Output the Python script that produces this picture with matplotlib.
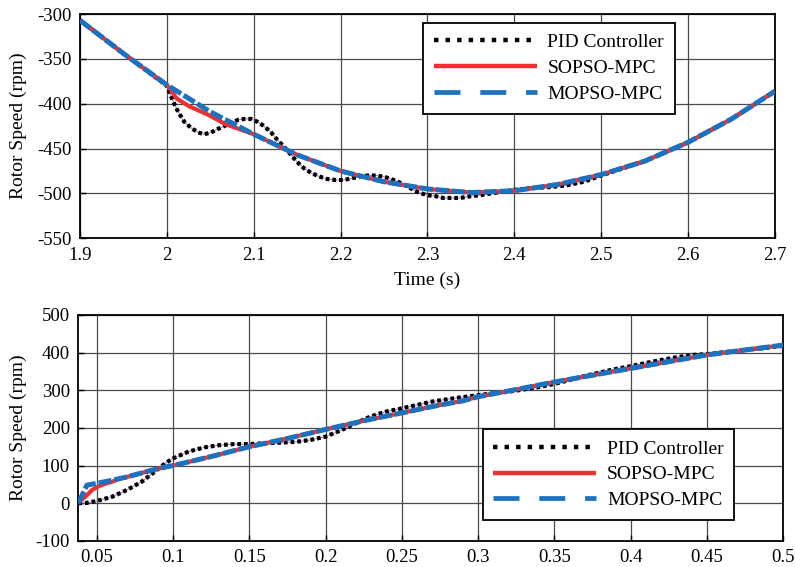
import matplotlib
matplotlib.use("Agg")
import matplotlib.pyplot as plt
from matplotlib.lines import Line2D
from matplotlib.ticker import FuncFormatter

plt.rcParams['font.family'] = ['Liberation Serif', 'DejaVu Serif']
plt.rcParams['axes.unicode_minus'] = False

labels = ['PID Controller', 'SOPSO-MPC', 'MOPSO-MPC']

# ---------------- Top panel data ----------------
t_mop_top = [1.9, 1.95, 2.0, 2.05, 2.1, 2.15, 2.2, 2.25, 2.3, 2.35, 2.4, 2.45, 2.5, 2.55, 2.6, 2.65, 2.7]
v_mop_top = [-307, -344, -379, -409, -434, -457, -475, -487, -495, -499, -497, -490, -479, -464, -443, -417, -386]

t_sop_top = [1.9, 1.95, 2.0, 2.005, 2.011, 2.026, 2.047, 2.068, 2.1, 2.15, 2.2, 2.25, 2.3, 2.35, 2.4, 2.45, 2.5, 2.55, 2.6, 2.65, 2.7]
v_sop_top = [-307, -344, -379, -385, -394, -403, -412, -423, -434, -457, -475, -487, -495, -499, -497, -490, -479, -464, -443, -417, -386]

t_pid_top = [1.9, 1.95, 2.0, 2.008, 2.013, 2.02, 2.028, 2.036, 2.043, 2.051, 2.059, 2.066, 2.074,
             2.082, 2.089, 2.097, 2.104, 2.112, 2.12, 2.127, 2.135, 2.143, 2.15, 2.158, 2.166,
             2.175, 2.185, 2.194, 2.204, 2.213, 2.223, 2.232, 2.242, 2.252, 2.261, 2.271, 2.28,
             2.29, 2.3, 2.309, 2.318, 2.328, 2.338, 2.35, 2.36, 2.38, 2.4, 2.42, 2.44, 2.46,
             2.48, 2.5, 2.55, 2.6, 2.65, 2.7]
v_pid_top = [-307, -344, -380, -399, -409, -420, -427, -432, -434, -432, -428, -425, -421,
             -418, -417, -417, -420, -425, -432, -440, -448, -457, -465, -472, -477,
             -481, -484, -485, -485, -483, -481, -480, -480, -482, -485, -489, -494,
             -499, -502, -503, -505, -505, -505, -503, -502, -499, -496, -494, -493, -491,
             -487, -480, -464, -443, -417, -386]

# ---------------- Bottom panel data ----------------
t_mop_bot = [0.038, 0.0436, 0.05, 0.06, 0.07, 0.08, 0.09, 0.1, 0.125, 0.15, 0.175, 0.2, 0.225,
             0.25, 0.275, 0.29, 0.3, 0.325, 0.35, 0.375, 0.4, 0.425, 0.45, 0.475, 0.5]
v_mop_bot = [0, 48, 53, 61, 70, 81, 92, 100, 124, 150, 172, 196, 219,
             240, 261, 272, 283, 302, 322, 340, 358, 376, 394, 407, 420]

t_sop_bot = [0.038, 0.0403, 0.0436, 0.0469, 0.0512, 0.0556, 0.06, 0.065, 0.07, 0.08, 0.09, 0.1,
             0.125, 0.15, 0.175, 0.2, 0.225, 0.25, 0.275, 0.29, 0.3, 0.325, 0.35, 0.375, 0.4,
             0.425, 0.45, 0.475, 0.5]
v_sop_bot = [0, 10, 21, 35, 45, 52, 57, 65, 70, 81, 92, 100,
             124, 150, 172, 196, 219, 240, 261, 272, 283, 302, 322, 340, 358,
             376, 394, 407, 420]

t_pid_bot = [0.038, 0.0436, 0.05, 0.06, 0.0697, 0.0795, 0.0894, 0.0949, 0.1, 0.1102, 0.1201,
             0.1299, 0.1397, 0.15, 0.1594, 0.1703, 0.1802, 0.19, 0.2, 0.2097, 0.2195, 0.2293,
             0.2392, 0.25, 0.26, 0.2698, 0.2797, 0.2884, 0.3, 0.3098, 0.3197, 0.3295, 0.339,
             0.35, 0.3598, 0.3697, 0.3795, 0.3893, 0.4, 0.4105, 0.4193, 0.4303, 0.441, 0.45,
             0.4632, 0.474, 0.485, 0.5]
v_pid_bot = [0, 1, 6, 17, 35, 57, 88, 106, 119, 137, 148,
             154, 157, 157, 159, 161, 163, 168, 177, 193, 212, 230,
             243, 252, 261, 270, 276, 281, 287, 292, 296, 302, 308,
             317, 327, 338, 347, 356, 364, 373, 380, 388, 394, 396,
             402, 407, 411, 418]

top_xticks = [1.9, 2.0, 2.1, 2.2, 2.3, 2.4, 2.5, 2.6, 2.7]
top_yticks = [-550, -500, -450, -400, -350, -300]
bot_xticks = [0.05, 0.1, 0.15, 0.2, 0.25, 0.3, 0.35, 0.4, 0.45, 0.5]
bot_yticks = [-100, 0, 100, 200, 300, 400, 500]

RED = '#ee3030'
BLUE = '#1a72c0'
PURPLE = '#b57ac8'

fig = plt.figure(figsize=(7.95, 5.67), dpi=100)
ax1 = fig.add_axes([0.1006, 0.5797, 0.8742, 0.3956])
ax2 = fig.add_axes([0.0985, 0.0460, 0.8868, 0.3985])

def draw(ax, tp, vp, ts, vs, tm, vm):
    ax.plot(tp, vp, color=PURPLE, lw=0.8, zorder=2)
    ax.plot(tp, vp, color='black', lw=3.0, linestyle=(0, (0.9, 0.7)),
            dash_capstyle='butt', zorder=3)
    ax.plot(ts, vs, color=RED, lw=3.0, zorder=4, solid_capstyle='butt')
    ax.plot(tm, vm, color=BLUE, lw=3.6, linestyle=(0, (2.6, 0.6)),
            dash_capstyle='butt', zorder=5)
    ax.grid(True, color='#4a4a4a', lw=0.9)
    ax.set_axisbelow(True)
    for s in ax.spines.values():
        s.set_linewidth(1.3)
        s.set_color('black')
    ax.tick_params(direction='in', length=4, labelsize=13.5, pad=6, width=1)
    ax.set_ylabel('Rotor Speed (rpm)', fontsize=14)

def legend(ax, anchor):
    handles = [
        Line2D([], [], color='black', lw=3.2, linestyle=(0, (1.0, 1.6)), dash_capstyle='butt'),
        Line2D([], [], color=RED, lw=3.2, solid_capstyle='butt'),
        Line2D([], [], color=BLUE, lw=3.4, linestyle=(0, (5.5, 4.2)), dash_capstyle='butt'),
    ]
    leg = ax.legend(handles, labels, loc='upper left', bbox_to_anchor=anchor,
                    fontsize=14, frameon=True, fancybox=False, framealpha=1,
                    edgecolor='black', handlelength=5.3, handletextpad=0.55,
                    labelspacing=0.42, borderpad=0.55, borderaxespad=0)
    leg.get_frame().set_linewidth(1.3)
    return leg

draw(ax1, t_pid_top, v_pid_top, t_sop_top, v_sop_top, t_mop_top, v_mop_top)
ax1.set_xlim(1.9, 2.7)
ax1.set_ylim(-550, -300)
ax1.set_xticks(top_xticks)
ax1.set_yticks(top_yticks)
ax1.xaxis.set_major_formatter(FuncFormatter(lambda x, p: '%g' % round(x, 3)))
ax1.set_xlabel('Time (s)', fontsize=14, labelpad=6)
legend(ax1, (0.4935, 0.960))

draw(ax2, t_pid_bot, v_pid_bot, t_sop_bot, v_sop_bot, t_mop_bot, v_mop_bot)
ax2.set_xlim(0.038, 0.5)
ax2.set_ylim(-100, 500)
ax2.set_xticks(bot_xticks)
ax2.set_yticks(bot_yticks)
ax2.xaxis.set_major_formatter(FuncFormatter(lambda x, p: '%g' % round(x, 3)))
legend(ax2, (0.5736, 0.494))

ax1.yaxis.set_label_coords(-0.076, 0.5)
ax2.yaxis.set_label_coords(-0.073, 0.5)

fig.savefig('out.png', dpi=100)
